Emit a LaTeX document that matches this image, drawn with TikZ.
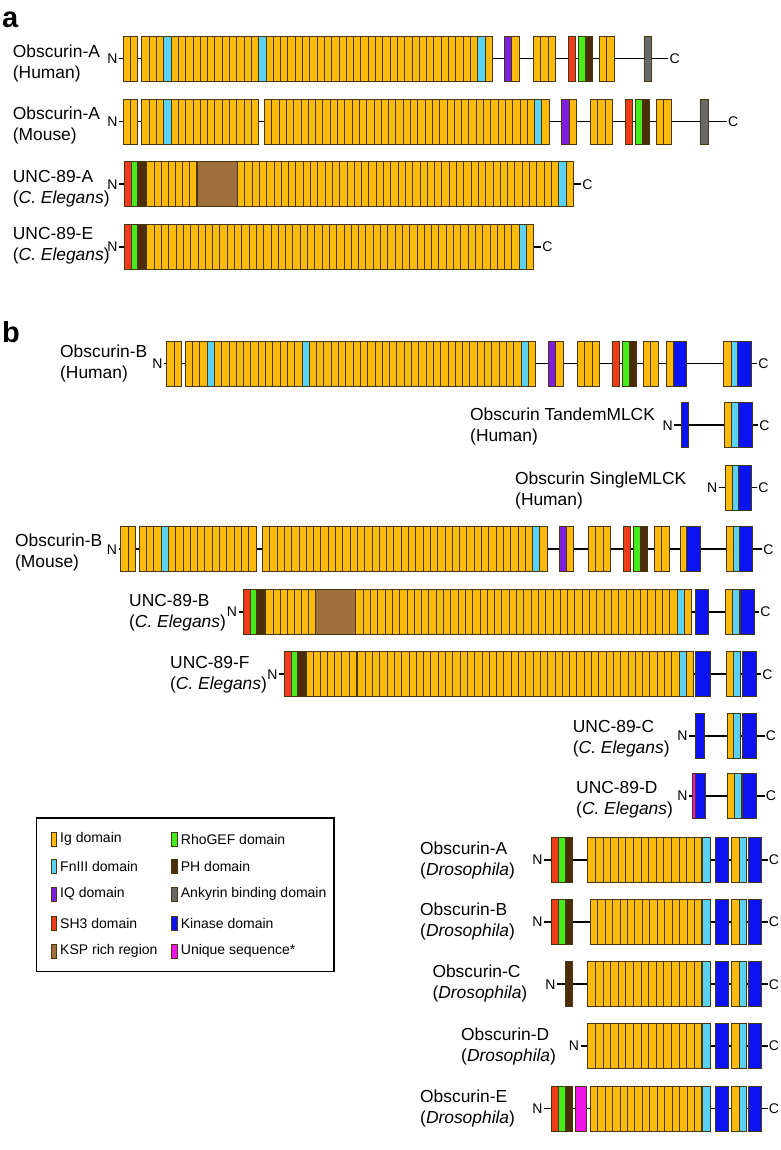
\documentclass[tikz,border=0pt]{standalone}
\usepackage{fontspec}
\setmainfont{Liberation Sans}
\definecolor{ig}{RGB}{253,186,10}
\definecolor{fn}{RGB}{90,210,245}
\definecolor{iq}{RGB}{125,30,225}
\definecolor{sh}{RGB}{240,60,25}
\definecolor{rg}{RGB}{70,235,30}
\definecolor{ph}{RGB}{75,45,10}
\definecolor{ank}{RGB}{105,105,105}
\definecolor{ksp}{RGB}{160,112,60}
\definecolor{kin}{RGB}{10,20,240}
\definecolor{uni}{RGB}{240,20,235}
\definecolor{edge}{RGB}{70,55,15}
\tikzset{
  dom/.style={draw=edge,line width=0.6pt},
  bbl/.style={line width=1.8pt},
  nm/.style={font=\fontsize{17.4}{21}\selectfont,anchor=base west,inner sep=0pt},
  nc/.style={font=\fontsize{14}{15}\selectfont,inner sep=1.2pt},
  lg/.style={font=\fontsize{14}{16}\selectfont,anchor=west,inner sep=0pt},
  sw/.style={draw=edge,line width=0.6pt},
  pl/.style={font=\bfseries\fontsize{29}{30}\selectfont,anchor=base west,inner sep=0pt}
}
\def\hh{45}
\newcommand\rowat[1]{\xdef\myYt{#1}\pgfmathsetmacro\tmpa{#1+\hh}\xdef\myYb{\tmpa}\pgfmathsetmacro\tmpa{#1+\hh/2}\xdef\myYc{\tmpa}}
\newcommand\setx[1]{\pgfmathsetmacro\tmpa{#1}\xdef\myX{\tmpa}}
\newcommand\rep[3]{%
  \foreach \k in {1,...,#2}{%
    \pgfmathsetmacro\xa{\myX+(\k-1)*#3}%
    \pgfmathsetmacro\xb{\myX+\k*#3}%
    \draw[dom,fill=#1] (\xa,\myYt) rectangle (\xb,\myYb);}%
  \pgfmathsetmacro\tmpa{\myX+#2*#3}\xdef\myX{\tmpa}}
\newcommand\dIg[1]{\rep{ig}{#1}{7.3}}
\newcommand\dFn{\rep{fn}{1}{7.3}}
\newcommand\dIQ{\rep{iq}{1}{7.3}}
\newcommand\dd[3]{\draw[dom,fill=#1] (#2,\myYt) rectangle (#3,\myYb);}
\newcommand\bbone[3]{% name, N east x, C west x
  \node[nc,anchor=east] (#1N) at (#2,\myYc) {N};
  \node[nc,anchor=west] (#1C) at (#3,\myYc) {C};
  \draw[bbl] (#1N.east) -- (#1C.west);}
\newcommand\nmlab[5]{% name, x, baseline, line1, line2
  \node[nm] (#1t1) at (#2,#3) {#4};
  \node[nm] (#1t2) at (#2,#3+21) {#5};}
\newcommand\lgd[5]{% name, x, yc, color, text
  \draw[sw,fill=#4] (#2,#3-7) rectangle (#2+5.7,#3+7);
  \node[lg] (#1) at (#2+9,#3) {#5};}
\begin{document}
\begin{tikzpicture}[x=1pt,y=-1pt]
\useasboundingbox (0,0) rectangle (780,1150);
\node[pl] (pa) at (2,28) {a};
\node[pl] (pb) at (2,342) {b};
% ---------------- a1
\rowat{36}
\nmlab{a1}{12.7}{57.3}{Obscurin-A}{(Human)}
\bbone{a1}{118.8}{668.3}
\setx{123}\dIg{2}
\setx{141.7}\dIg{3}\dFn\dIg{12}\dFn\dIg{29}\dFn\dIg{1}
\setx{504.3}\dIQ\dIg{1}
\setx{533.3}\dIg{3}
\dd{sh}{568.3}{575.3}
\dd{rg}{578.3}{585.3}\dd{ph}{585.3}{592.7}
\setx{599.3}\dIg{2}
\dd{ank}{644.3}{651.7}
% ---------------- a2
\rowat{99}
\nmlab{a2}{12.7}{120}{Obscurin-A}{(Mouse)}
\bbone{a2}{118.8}{726.7}
\setx{123}\dIg{2}
\setx{141.7}\dIg{3}\dFn\dIg{12}
\setx{264.3}\dIg{37}\dFn\dIg{1}
\setx{561.7}\dIQ\dIg{1}
\setx{590.3}\dIg{3}
\dd{sh}{625.3}{632.3}
\dd{rg}{635.3}{642.3}\dd{ph}{642.3}{649.3}
\setx{656.3}\dIg{2}
\dd{ank}{700.7}{708.3}
% ---------------- a3
\rowat{161.7}
\nmlab{a3}{12.7}{183}{UNC-89-A}{(\textit{C. Elegans})}
\bbone{a3}{119}{581}
\dd{sh}{124.3}{131}\dd{rg}{131}{137.7}\dd{ph}{137.7}{145.7}
\setx{146.7}\rep{ig}{7}{7.14}
\dd{ksp}{197.7}{237.3}
\setx{237.3}\dIg{44}\dFn\dIg{1}
% ---------------- a4
\rowat{224.3}
\nmlab{a4}{12.7}{240}{UNC-89-E}{(\textit{C. Elegans})}
\bbone{a4}{119}{541}
\dd{sh}{124.3}{131}\dd{rg}{131}{137.7}\dd{ph}{137.7}{145.7}
\setx{146.7}\dIg{51}\dFn\dIg{1}
% ---------------- b1
\rowat{341}
\nmlab{b1}{60}{357}{Obscurin-B}{(Human)}
\bbone{b1}{164}{757}
\setx{166.7}\dIg{2}
\setx{185}\dIg{3}\dFn\dIg{12}\dFn\dIg{29}\dFn\dIg{1}
\setx{548.3}\dIQ\dIg{1}
\setx{577.3}\dIg{3}
\dd{sh}{612}{619.3}
\dd{rg}{622.3}{629.7}\dd{ph}{629.7}{636.7}
\setx{643.3}\dIg{2}
\setx{666.7}\dIg{1}\dd{kin}{673.3}{686.7}
\setx{723.7}\dIg{1}\dd{fn}{731}{737.7}\dd{kin}{737.7}{751}
% ---------------- b2
\rowat{402.7}
\nmlab{b2}{470}{420}{Obscurin TandemMLCK}{(Human)}
\bbone{b2}{674}{758}
\dd{kin}{681}{688.3}
\dd{ig}{724.3}{731.7}\dd{fn}{731.7}{738.3}\dd{kin}{738.3}{752.3}
% ---------------- b3
\rowat{465}
\nmlab{b3}{515}{484}{Obscurin SingleMLCK}{(Human)}
\bbone{b3}{718.5}{757}
\dd{ig}{725}{732.3}\dd{fn}{732.3}{738.3}\dd{kin}{738.3}{751}
% ---------------- b4
\rowat{526.7}
\nmlab{b4}{15}{546.7}{Obscurin-B}{(Mouse)}
\bbone{b4}{118.5}{762}
\setx{120.7}\dIg{2}
\setx{139}\dIg{3}\dFn\dIg{12}
\setx{262.3}\dIg{37}\dFn\dIg{1}
\setx{559}\dIQ\dIg{1}
\setx{588.3}\dIg{3}
\dd{sh}{623.3}{630.7}
\dd{rg}{633.3}{640.3}\dd{ph}{640.3}{647.7}
\setx{654.3}\dIg{2}
\setx{680}\dIg{1}\dd{kin}{686.7}{700}
\dd{ig}{726.7}{733.3}\dd{fn}{733.3}{739.3}\dd{kin}{739.3}{752.7}
% ---------------- b5
\rowat{589.3}
\nmlab{b5}{129}{606.5}{UNC-89-B}{(\textit{C. Elegans})}
\bbone{b5}{238.5}{759}
\dd{sh}{243.3}{250.7}\dd{rg}{250.7}{256.7}\dd{ph}{256.7}{264.3}
\setx{265.7}\rep{ig}{7}{7.14}
\dd{ksp}{315.7}{355.7}
\setx{355.7}\dIg{44}\dFn\dIg{1}
\dd{kin}{695}{708.3}
\dd{ig}{725.7}{732.3}\dd{fn}{732.3}{739}\dd{kin}{740.5}{754}
% ---------------- b6
\rowat{651.7}
\nmlab{b6}{170}{668.3}{UNC-89-F}{(\textit{C. Elegans})}
\bbone{b6}{279}{761}
\dd{sh}{284}{291.7}\dd{rg}{291.7}{297.7}\dd{ph}{297.7}{305}
\setx{306}\rep{ig}{7}{7.14}
\setx{357.7}\dIg{44}\dFn\dIg{1}
\dd{kin}{695.7}{710}
\dd{ig}{726.7}{733.3}\dd{fn}{733.3}{740}\dd{kin}{742.7}{756}
% ---------------- b7
\rowat{713.3}
\nmlab{b7}{572.7}{732.7}{UNC-89-C}{(\textit{C. Elegans})}
\bbone{b7}{688.8}{764.5}
\dd{kin}{695}{704.3}
\dd{ig}{727.3}{733.3}\dd{fn}{733.3}{740.7}\dd{kin}{742.7}{756.7}
% ---------------- b8
\rowat{773.3}
\nmlab{b8}{576}{793.3}{UNC-89-D}{(\textit{C. Elegans})}
\bbone{b8}{688.8}{764.5}
\dd{uni}{692.7}{695.7}\dd{kin}{695.7}{705}
\dd{ig}{727.3}{734}\dd{fn}{734}{741.3}\dd{kin}{742.7}{756.7}
% ---------------- Drosophila
\rowat{837.3}
\nmlab{d1}{420}{854}{Obscurin-A}{(\textit{Drosophila})}
\bbone{d1}{544}{767.5}
\dd{sh}{551.7}{558.3}\dd{rg}{558.3}{565.7}\dd{ph}{565.7}{572.7}
\setx{587.7}\rep{ig}{15}{7.6}
\dd{fn}{702.7}{710.7}\dd{kin}{715}{728.3}
\dd{ig}{731.7}{739.3}\dd{fn}{739.3}{746.7}\dd{kin}{748.3}{761.7}
\rowat{899.3}
\nmlab{d2}{420}{915.7}{Obscurin-B}{(\textit{Drosophila})}
\bbone{d2}{544}{767.5}
\dd{sh}{551.7}{558.3}\dd{rg}{558.3}{565.7}\dd{ph}{565.7}{572.7}
\setx{590}\rep{ig}{15}{7.45}
\dd{fn}{702.7}{710.7}\dd{kin}{715}{728.3}
\dd{ig}{731.7}{739.3}\dd{fn}{739.3}{746.7}\dd{kin}{748.3}{761.7}
\rowat{961.7}
\nmlab{d3}{432.3}{977.7}{Obscurin-C}{(\textit{Drosophila})}
\bbone{d3}{557}{767.5}
\dd{ph}{565}{572.7}
\setx{587.7}\rep{ig}{15}{7.6}
\dd{fn}{702.7}{710.7}\dd{kin}{715}{728.3}
\dd{ig}{731.7}{739.3}\dd{fn}{739.3}{746.7}\dd{kin}{748.3}{761.7}
\rowat{1023.3}
\nmlab{d4}{461}{1040.7}{Obscurin-D}{(\textit{Drosophila})}
\bbone{d4}{580.5}{767.5}
\setx{587.7}\rep{ig}{15}{7.6}
\dd{fn}{702.7}{710.7}\dd{kin}{715}{728.3}
\dd{ig}{731.7}{739.3}\dd{fn}{739.3}{746.7}\dd{kin}{748.3}{761.7}
\rowat{1086}
\nmlab{d5}{420}{1102.7}{Obscurin-E}{(\textit{Drosophila})}
\bbone{d5}{544}{767.5}
\dd{sh}{551.7}{558.3}\dd{rg}{558.3}{565.7}\dd{ph}{565.7}{572.7}
\dd{uni}{575.7}{586}
\setx{590}\rep{ig}{15}{7.45}
\dd{fn}{702.7}{710.7}\dd{kin}{715}{728.3}
\dd{ig}{731.7}{739.3}\dd{fn}{739.3}{746.7}\dd{kin}{748.3}{761.7}
% ---------------- legend
\draw[line width=1.2pt] (36.7,818) rectangle (334,971.7);
\lgd{L1}{51}{839}{ig}{Ig domain}
\lgd{L2}{51}{866.5}{fn}{FnIII domain}
\lgd{L3}{51}{894}{iq}{IQ domain}
\lgd{L4}{51}{923.5}{sh}{SH3 domain}
\lgd{L5}{51}{951}{ksp}{KSP rich region}
\lgd{L6}{171.7}{839}{rg}{RhoGEF domain}
\lgd{L7}{171.7}{866.5}{ph}{PH domain}
\lgd{L8}{171.7}{894}{ank}{Ankyrin binding domain}
\lgd{L9}{171.7}{923.5}{kin}{Kinase domain}
\lgd{L10}{171.7}{951}{uni}{Unique sequence*}
\end{tikzpicture}
\end{document}
